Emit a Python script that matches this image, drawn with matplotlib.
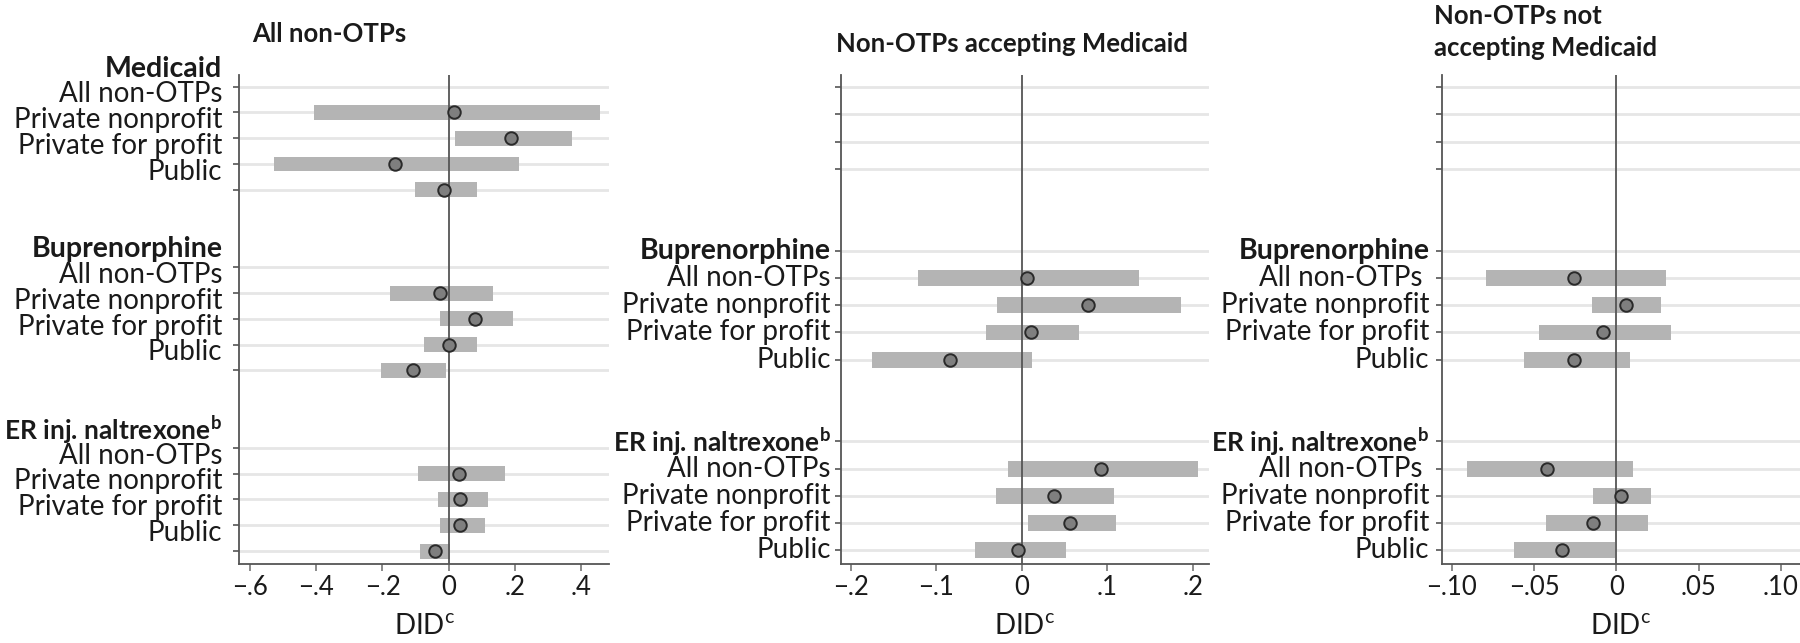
import matplotlib.pyplot as plt
import matplotlib.transforms as mtransforms

plt.rcParams['font.family'] = ['Lato', 'DejaVu Sans']
plt.rcParams['mathtext.fontset'] = 'custom'
plt.rcParams['mathtext.rm'] = 'Lato'
plt.rcParams['mathtext.bf'] = 'Lato:bold'

groups = ["All non-OTPs", "Private nonprofit", "Private for profit", "Public"]
groups_p3 = ["All non-OTPs ", "Private nonprofit", "Private for profit", "Public"]

# All non-OTPs
all_med_est = [0.016, 0.189, -0.163, -0.014]
all_med_lo = [-0.408, 0.020, -0.527, -0.103]
all_med_hi = [0.455, 0.371, 0.211, 0.084]
all_bup_est = [-0.025, 0.080, 0.000, -0.109]
all_bup_lo = [-0.177, -0.026, -0.075, -0.204]
all_bup_hi = [0.134, 0.193, 0.085, -0.007]
all_xr_est = [0.030, 0.035, 0.035, -0.043]
all_xr_lo = [-0.094, -0.033, -0.027, -0.086]
all_xr_hi = [0.169, 0.117, 0.110, 0.004]

# Non-OTPs accepting Medicaid
acc_bup_est = [0.006, 0.077, 0.011, -0.084]
acc_bup_lo = [-0.122, -0.029, -0.042, -0.175]
acc_bup_hi = [0.137, 0.186, 0.067, 0.012]
acc_xr_est = [0.093, 0.038, 0.057, -0.004]
acc_xr_lo = [-0.016, -0.030, 0.007, -0.055]
acc_xr_hi = [0.206, 0.108, 0.110, 0.052]

# Non-OTPs not accepting Medicaid
non_bup_est = [-0.026, 0.006, -0.008, -0.026]
non_bup_lo = [-0.079, -0.015, -0.047, -0.056]
non_bup_hi = [0.030, 0.027, 0.033, 0.008]
non_xr_est = [-0.042, 0.003, -0.014, -0.033]
non_xr_lo = [-0.091, -0.014, -0.043, -0.062]
non_xr_hi = [0.010, 0.021, 0.019, -0.001]

p1_ticks = [-0.6, -0.4, -0.2, 0, 0.2, 0.4]
p1_labels = ["\u2212.6", "\u2212.4", "\u2212.2", "0", ".2", ".4"]
p2_ticks = [-0.2, -0.1, 0, 0.1, 0.2]
p2_labels = ["\u2212.2", "\u2212.1", "0", ".1", ".2"]
p3_ticks = [-0.10, -0.05, 0, 0.05, 0.10]
p3_labels = ["\u2212.10", "\u2212.05", "0", ".05", ".10"]

ER = r"ER inj. naltrexone$^{\mathbf{b}}$"

FS = 20        # row labels
TFS = 18.5     # panel titles
TXT = '#1a1a1a'
BAR = '#b4b4b4'
DARK = '#555555'

fig = plt.figure(figsize=(18, 6.43), dpi=100)


def panel(rect, blocks, extra_rows, nrows, xlim, ticks, ticklabels, gap, shift):
    ax = fig.add_axes(rect)
    tick_rows = list(extra_rows)
    tr = mtransforms.blended_transform_factory(ax.transAxes, ax.transData)
    for head, name, hfs, labels, est, lo, hi in blocks:
        rows = [head + 1 + i for i in range(len(est))]
        tick_rows += [head] + rows
        widths = [h - l for l, h in zip(lo, hi)]
        ax.barh(rows, widths, left=lo, height=0.58, color=BAR, zorder=2)
        ax.plot(est, rows, 'o', ms=9, mfc='#7f7f7f', mec='#2a2a2a', mew=1.4,
                zorder=4)
        ax.text(-gap, head + shift, name, transform=tr, ha='right', va='center',
                fontsize=hfs, fontweight='bold', color=TXT)
        for r, lab in zip(rows, labels):
            ax.text(-gap, r + shift, lab, transform=tr, ha='right', va='center',
                    fontsize=FS, color=TXT)
    ax.axvline(0, color=DARK, lw=1.3, zorder=3)
    ax.set_yticks(tick_rows)
    ax.set_yticklabels([])
    ax.grid(axis='y', color='#e6e6e6', lw=2, zorder=0)
    ax.set_axisbelow(True)
    ax.set_ylim(nrows - 0.5, -0.45)
    ax.set_xlim(*xlim)
    ax.set_xticks(ticks)
    ax.set_xticklabels(ticklabels, fontsize=18.5, color=TXT)
    ax.tick_params(axis='x', length=5, width=1.2, color='#777777', pad=3)
    ax.tick_params(axis='y', length=4, width=1.2, color=DARK)
    for s in ['top', 'right']:
        ax.spines[s].set_visible(False)
    for s in ['left', 'bottom']:
        ax.spines[s].set_color(DARK)
        ax.spines[s].set_linewidth(1.3)
    ax.set_xlabel(r"DID$^{\mathrm{c}}$", fontsize=FS, color=TXT, labelpad=10)
    return ax


bottom, height = 0.1229, 0.7605

panel([0.1328, bottom, 0.2056, height],
      [(0, "Medicaid", 20.5, groups, all_med_est, all_med_lo, all_med_hi),
       (7, "Buprenorphine", 20.5, groups, all_bup_est, all_bup_lo, all_bup_hi),
       (14, ER, 19, groups, all_xr_est, all_xr_lo, all_xr_hi)],
      [], 19, (-0.6326, 0.4836), p1_ticks, p1_labels, 0.045, -0.7)

panel([0.4672, bottom, 0.2044, height],
      [(6, "Buprenorphine", 20.5, groups, acc_bup_est, acc_bup_lo, acc_bup_hi),
       (13, ER, 19, groups, acc_xr_est, acc_xr_lo, acc_xr_hi)],
      [0, 1, 2, 3], 18, (-0.2117, 0.219), p2_ticks, p2_labels, 0.028, 0)

panel([0.8011, bottom, 0.1989, height],
      [(6, "Buprenorphine", 20.5, groups_p3, non_bup_est, non_bup_lo, non_bup_hi),
       (13, ER, 19, groups_p3, non_xr_est, non_xr_lo, non_xr_hi)],
      [0, 1, 2, 3], 18, (-0.1059, 0.1115), p3_ticks, p3_labels, 0.035, 0)

fig.text(0.140, 0.947, "All non-OTPs", fontsize=TFS, fontweight='bold',
         ha='left', va='center', color=TXT)
fig.text(0.4644, 0.9316, "Non-OTPs accepting Medicaid", fontsize=TFS,
         fontweight='bold', ha='left', va='center', color=TXT)
fig.text(0.7967, 0.950, "Non-OTPs not\naccepting Medicaid", fontsize=TFS,
         fontweight='bold', ha='left', va='center', linespacing=1.4,
         color=TXT)

fig.savefig('out.png', dpi=100)
